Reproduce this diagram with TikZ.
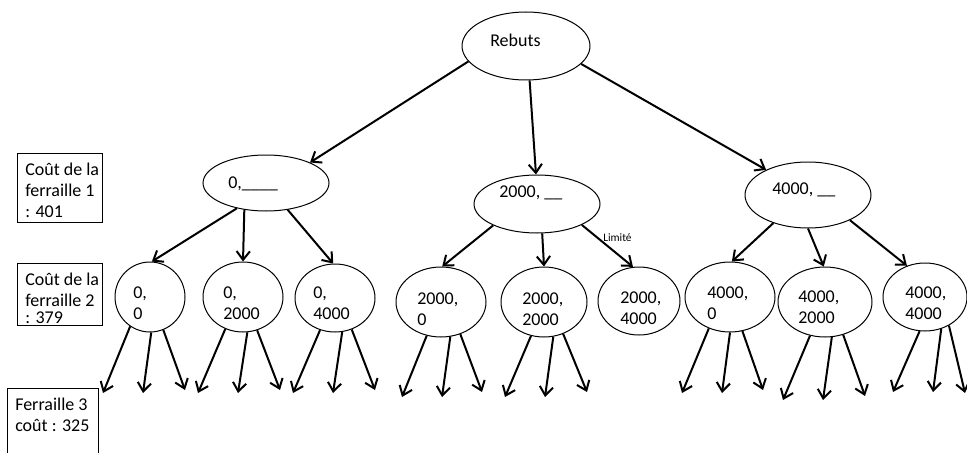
\documentclass[tikz,border=0pt]{standalone}
\usepackage{fontspec}
\setmainfont{Carlito}
\usetikzlibrary{arrows.meta,shapes.geometric}
\begin{document}
\begin{tikzpicture}[x=0.75pt,y=-0.75pt,
  ell/.style={draw,ellipse,inner sep=0pt,line width=0.75pt},
  lbl/.style={anchor=west,inner sep=0pt,align=left,font=\fontsize{13.5}{15.75}\selectfont},
  boxl/.style={draw,line width=0.75pt},
  arr/.style={line width=1.5pt,-{Straight Barb[length=6.5pt,width=10pt,line width=1.5pt]}}]
\clip (0,0) rectangle (967,453);
\fill[white] (0,0) rectangle (967,453);
% ellipses
\node[ell,minimum width=96pt,minimum height=51pt] (root) at (526,46) {};
\node[ell,minimum width=94.5pt,minimum height=42pt] (a) at (266,183) {};
\node[ell,minimum width=94.5pt,minimum height=43.5pt] (b) at (537,204) {};
\node[ell,minimum width=94.5pt,minimum height=49.5pt] (c) at (808,195) {};
\node[ell,minimum width=52.5pt,minimum height=52.5pt] (A) at (150,297) {};
\node[ell,minimum width=60pt,minimum height=52.5pt] (B) at (243,297) {};
\node[ell,minimum width=60pt,minimum height=51pt] (C) at (335,298) {};
\node[ell,minimum width=67.5pt,minimum height=52.5pt] (D) at (441,302) {};
\node[ell,minimum width=64.5pt,minimum height=52.5pt] (E) at (544,302) {};
\node[ell,minimum width=61.5pt,minimum height=51pt] (F) at (639,301) {};
\node[ell,minimum width=67.5pt,minimum height=52.5pt] (G) at (730,297) {};
\node[ell,minimum width=70.5pt,minimum height=52.5pt] (H) at (825,302) {};
\node[ell,minimum width=63pt,minimum height=51pt] (I) at (925,297) {};
% labels
\node[lbl] (troot) at (490,40) {Rebuts};
\node[lbl] (ta) at (228,184) {0,\_\_\_\_};
\node[lbl] (tb) at (499,193) {2000, \_\_};
\node[lbl] (tc) at (772,190) {4000, \_\_};
\node[lbl] (tA) at (133,303) {0,\\0};
\node[lbl] (tB) at (223,303) {0,\\2000};
\node[lbl] (tC) at (313,303) {0,\\4000};
\node[lbl] (tD) at (417,309) {2000,\\0};
\node[lbl] (tE) at (522,309) {2000,\\2000};
\node[lbl] (tF) at (620,308) {2000,\\4000};
\node[lbl] (tG) at (707,303) {4000,\\0};
\node[lbl] (tH) at (798,307) {4000,\\2000};
\node[lbl] (tI) at (905,303) {4000,\\4000};
\node[anchor=west,inner sep=0pt,font=\fontsize{8.5}{10}\selectfont] (lim) at (603,238) {Limité};
% boxes
\node[boxl,anchor=north west,minimum width=63.75pt,minimum height=51.75pt,inner sep=0pt] (box1) at (17,153) {};
\node[boxl,anchor=north west,minimum width=63.75pt,minimum height=46.5pt,inner sep=0pt] (box2) at (17,263) {};
\node[boxl,anchor=north west,minimum width=68.25pt,minimum height=60pt,inner sep=0pt] (box3) at (7,388) {};
\node[lbl,anchor=north west] (tbox1) at (25,163) {Coût de la\\ferraille 1\\: 401};
\node[lbl,anchor=north west] (tbox2) at (25,273) {Coût de la\\ferraille 2\\[-3pt]: 379};
\node[lbl,anchor=north west] (tbox3) at (15,398) {Ferraille 3\\coût : 325};
% root arrows
\draw[arr] (root.195) -- (a.25);
\draw[arr] (root.276) -- (b.92);
\draw[arr] (root.342) -- (c.149);
% level 1 arrows
\draw[arr] (a.221) -- (A.87);
\draw[arr] (a.231) -- (B.90);
\draw[arr] (a.309) -- (C.93);
\draw[arr] (b.206) -- (D.88);
\draw[arr] (b.280) -- (E.90);
\draw[arr] (b.335) -- (F.100);
\draw[arr] (c.219) -- (G.87);
\draw[arr] (c.270) -- (H.92);
\draw[arr] (c.329) -- (I.120);
% leaf coordinates
\coordinate (A1) at (103,393); \coordinate (A2) at (143,393); \coordinate (A3) at (185,390);
\coordinate (B1) at (198,393); \coordinate (B2) at (238,393); \coordinate (B3) at (280,390);
\coordinate (C1) at (293,393); \coordinate (C2) at (333,393); \coordinate (C3) at (375,390);
\coordinate (D1) at (402,397); \coordinate (D2) at (442,397); \coordinate (D3) at (482,392);
\coordinate (E1) at (505,397); \coordinate (E2) at (545,397); \coordinate (E3) at (587,392);
\coordinate (G1) at (682,393); \coordinate (G2) at (722,393); \coordinate (G3) at (763,390);
\coordinate (H1) at (783,400); \coordinate (H2) at (823,400); \coordinate (H3) at (865,396);
\coordinate (I1) at (893,392); \coordinate (I2) at (933,392); \coordinate (I3) at (965,393);
\draw[arr] (A.236) -- (A1); \draw[arr] (A.272) -- (A2); \draw[arr] (A.292) -- (A3);
\draw[arr] (B.241) -- (B1); \draw[arr] (B.277) -- (B2); \draw[arr] (B.293) -- (B3);
\draw[arr] (C.245) -- (C1); \draw[arr] (C.282) -- (C2); \draw[arr] (C.298) -- (C3);
\draw[arr] (D.247) -- (D1); \draw[arr] (D.285) -- (D2); \draw[arr] (D.301) -- (D3);
\draw[arr] (E.249) -- (E1); \draw[arr] (E.285) -- (E2); \draw[arr] (E.301) -- (E3);
\draw[arr] (G.236) -- (G1); \draw[arr] (G.270) -- (G2); \draw[arr] (G.290) -- (G3);
\draw[arr] (H.246) -- (H1); \draw[arr] (H.281) -- (H2); \draw[arr] (H.299) -- (H3);
\draw[arr] (I.261) -- (I1); \draw[arr] (I.297) -- (I2); \draw[arr] (I.310) -- (I3);
\end{tikzpicture}
\end{document}
